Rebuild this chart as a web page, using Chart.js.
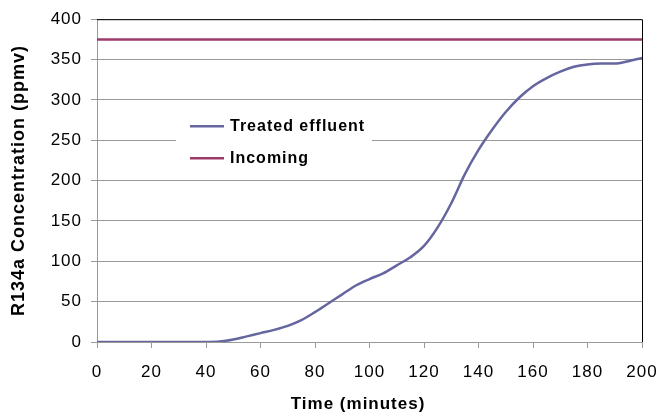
<!DOCTYPE html>
<html>
<head>
<meta charset="utf-8">
<script src="https://cdn.jsdelivr.net/npm/chart.js@4/dist/chart.umd.min.js"></script>
<style>
  body { margin: 0; background: #fff; }
</style>
</head>
<body>
<canvas id="chart" width="661" height="416"></canvas>
<script>
// time axis (minutes) and the two series
const timeMin = [0, 5, 10, 15, 20, 25, 30, 35, 40, 45, 50, 55, 60, 65, 70, 75, 80, 85, 90, 95,
                 100, 105, 110, 115, 120, 125, 130, 135, 140, 145, 150, 155, 160, 165, 170, 175,
                 180, 185, 190, 195, 200];
const treated = [0, 0, 0, 0, 0, 0, 0, 0, 0, 0.5, 3, 7, 11, 15, 20, 27, 37, 48, 59, 70,
                 78, 85, 95, 105, 119, 142, 172, 208, 238, 263, 285, 303, 317, 327, 335, 341,
                 344, 345, 345, 348, 352];
const incomingTime = [0, 200];
const incoming = [375, 375];

const xTicks = [0, 20, 40, 60, 80, 100, 120, 140, 160, 180, 200];
const yTicks = [0, 50, 100, 150, 200, 250, 300, 350, 400];

const seriesNames = ['Treated effluent', 'Incoming'];
const seriesColors = ['#65659f', '#9c3a6a'];

const FONT = "'Liberation Sans', Arial, sans-serif";

// the original text is a bit wider than Arial, so spread the letters slightly
const spacing = {
    id: 'spacing',
    beforeLayout(chart) { chart.ctx.letterSpacing = '1px'; },
    beforeDraw(chart) { chart.ctx.letterSpacing = '1px'; }
};

// draws black top/right frame like the original
const frame = {
    id: 'frame',
    beforeDatasetsDraw(chart) {
        const a = chart.chartArea;
        const c = chart.ctx;
        c.save();
        c.strokeStyle = '#000';
        c.lineWidth = 1;
        c.beginPath();
        c.moveTo(a.left, a.top + 0.5);
        c.lineTo(a.right + 0.5, a.top + 0.5);
        c.lineTo(a.right + 0.5, a.bottom);
        c.stroke();
        c.restore();
    }
};

// legend sitting inside the plot
const innerLegend = {
    id: 'innerLegend',
    afterDatasetsDraw(chart) {
        const a = chart.chartArea;
        const c = chart.ctx;
        const bx = a.left + 79, by = a.top + 89;
        c.save();
        c.fillStyle = '#fff';
        c.fillRect(bx, by, 196, 69);
        c.font = "bold 16px " + FONT;
        c.textBaseline = 'middle';
        chart.data.datasets.forEach((ds, i) => {
            const y = by + 18 + i * 32;
            c.strokeStyle = ds.borderColor;
            c.lineWidth = 2.5;
            c.beginPath();
            c.moveTo(bx + 14, y);
            c.lineTo(bx + 48, y);
            c.stroke();
            c.fillStyle = '#000';
            c.fillText(ds.label, bx + 54, y);
        });
        c.restore();
    }
};

const ctx = document.getElementById('chart').getContext('2d');

const chart = new Chart(ctx, {
    type: 'line',
    data: {
        datasets: [
            {
                label: seriesNames[0],
                data: timeMin.map((t, i) => ({x: t, y: treated[i]})),
                borderColor: seriesColors[0],
                borderWidth: 2.5,
                pointRadius: 0,
                cubicInterpolationMode: 'monotone'
            },
            {
                label: seriesNames[1],
                data: incomingTime.map((t, i) => ({x: t, y: incoming[i]})),
                borderColor: seriesColors[1],
                borderWidth: 2.5,
                pointRadius: 0
            }
        ]
    },
    options: {
        responsive: false,
        animation: false,
        layout: { padding: { top: 17, right: 19, left: 0, bottom: 0 } },
        plugins: {
            legend: { display: false },
            tooltip: { enabled: false }
        },
        scales: {
            x: {
                type: 'linear',
                min: 0,
                max: 200,
                afterBuildTicks: s => { s.ticks = xTicks.map(v => ({value: v})); },
                afterFit: s => { s.height = 74; s.paddingLeft = 0; s.paddingRight = 0; },
                grid: { drawOnChartArea: false, drawTicks: true, tickLength: 6, color: '#999' },
                border: { color: '#999', width: 1 },
                ticks: { color: '#000', padding: 14, maxRotation: 0, font: { family: FONT, size: 17 } },
                title: {
                    display: true,
                    text: 'Time (minutes)    ',
                    color: '#000',
                    padding: { top: 0, bottom: 1 },
                    font: { family: FONT, size: 17, weight: 'bold' }
                }
            },
            y: {
                min: 0,
                max: 400,
                afterBuildTicks: s => { s.ticks = yTicks.map(v => ({value: v})); },
                afterFit: s => { s.width = 97; },
                grid: { drawTicks: true, tickLength: 6, color: '#999' },
                border: { color: '#999', width: 1 },
                ticks: { color: '#000', padding: 9, font: { family: FONT, size: 17 } },
                title: {
                    display: true,
                    text: 'R134a Concentration (ppmv)',
                    color: '#000',
                    padding: { top: 8, bottom: 0 },
                    font: { family: FONT, size: 18, weight: 'bold' }
                }
            }
        }
    },
    plugins: [spacing, frame, innerLegend]
});
</script>
</body>
</html>
